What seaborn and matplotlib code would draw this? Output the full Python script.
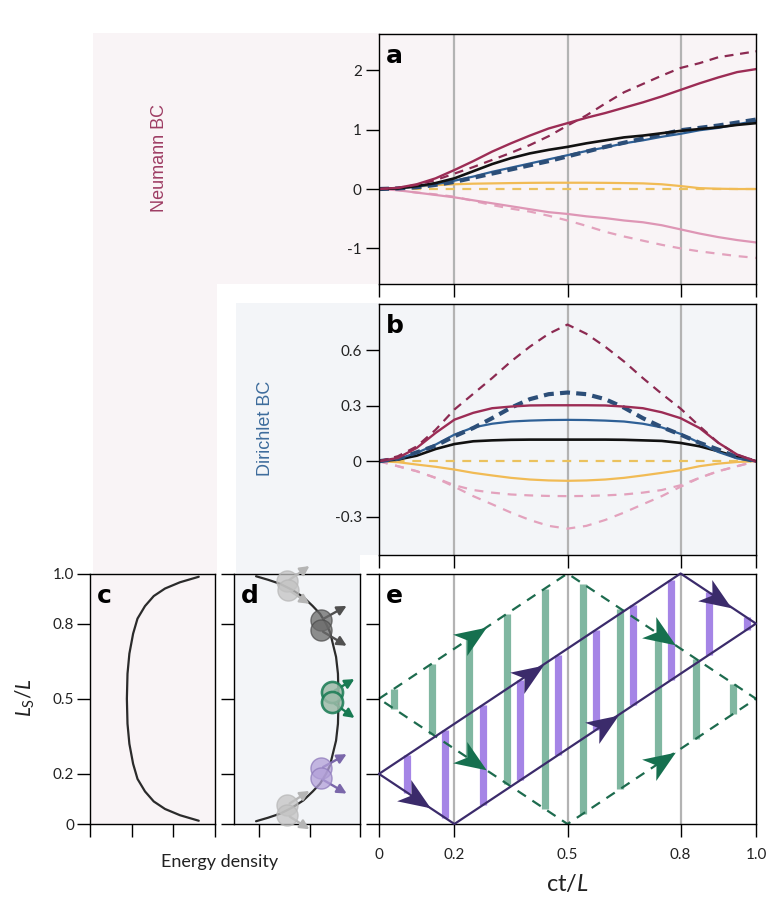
import numpy as np
import pandas as pd
import matplotlib
matplotlib.use("Agg")
import matplotlib.pyplot as plt
import seaborn as sns
from matplotlib.patches import Rectangle, FancyArrowPatch
from matplotlib.path import Path
from matplotlib.markers import MarkerStyle
from matplotlib.transforms import Affine2D

# ---------------- data ----------------
t = [0.0, 0.05, 0.1, 0.15, 0.2, 0.25, 0.3, 0.35, 0.4, 0.45, 0.5,
     0.55, 0.6, 0.65, 0.7, 0.75, 0.8, 0.85, 0.9, 0.95, 1.0]

# panel a (Neumann BC)
neu_red_solid = [0, 0.02, 0.08, 0.18, 0.32, 0.47, 0.63, 0.77, 0.9, 1.02, 1.11,
                 1.2, 1.28, 1.37, 1.46, 1.56, 1.67, 1.78, 1.88, 1.97, 2.02]
neu_red_dash = [0, 0.02, 0.07, 0.15, 0.26, 0.37, 0.49, 0.61, 0.74, 0.89, 1.07,
                1.24, 1.44, 1.63, 1.77, 1.91, 2.04, 2.12, 2.22, 2.27, 2.32]
neu_black = [0, 0.01, 0.05, 0.1, 0.18, 0.3, 0.42, 0.52, 0.6, 0.66, 0.71,
             0.77, 0.82, 0.87, 0.9, 0.94, 0.98, 1.01, 1.04, 1.08, 1.11]
neu_blue_solid = [0, 0.01, 0.04, 0.08, 0.14, 0.21, 0.29, 0.36, 0.43, 0.5, 0.57,
                  0.64, 0.7, 0.77, 0.82, 0.88, 0.93, 0.99, 1.03, 1.09, 1.15]
neu_blue_dash = [0, 0.01, 0.03, 0.07, 0.12, 0.19, 0.26, 0.33, 0.4, 0.47, 0.55,
                 0.63, 0.71, 0.78, 0.85, 0.92, 0.99, 1.03, 1.07, 1.12, 1.17]
neu_yellow_solid = [0, 0.01, 0.04, 0.065, 0.08, 0.09, 0.095, 0.1, 0.104, 0.106, 0.106,
                    0.106, 0.104, 0.1, 0.095, 0.08, 0.05, 0.015, 0.005, 0.0, 0.0]
neu_yellow_dash = [0, 0, 0, 0, 0, 0, 0, 0, 0, 0, 0,
                   0, 0, 0, 0, 0, 0, 0, 0, 0, 0]
neu_pink_solid = [0, -0.02, -0.06, -0.1, -0.14, -0.19, -0.24, -0.29, -0.34, -0.39, -0.42,
                  -0.46, -0.49, -0.53, -0.56, -0.61, -0.68, -0.75, -0.81, -0.86, -0.9]
neu_pink_dash = [0, -0.02, -0.06, -0.09, -0.13, -0.2, -0.27, -0.33, -0.38, -0.45, -0.53,
                 -0.62, -0.72, -0.8, -0.87, -0.94, -1.0, -1.05, -1.09, -1.13, -1.16]

# panel b (Dirichlet BC)
dir_red_dash = [0, 0.027, 0.08, 0.17, 0.28, 0.365, 0.45, 0.54, 0.62, 0.69, 0.74,
                0.69, 0.62, 0.54, 0.45, 0.365, 0.285, 0.19, 0.1, 0.035, 0]
dir_red_solid = [0, 0.018, 0.072, 0.153, 0.225, 0.262, 0.287, 0.296, 0.302, 0.303, 0.303,
                 0.303, 0.302, 0.296, 0.287, 0.265, 0.233, 0.18, 0.1, 0.036, 0]
dir_blue_dash = [0, 0.013, 0.048, 0.084, 0.135, 0.18, 0.233, 0.29, 0.336, 0.363, 0.372,
                 0.363, 0.336, 0.29, 0.233, 0.185, 0.144, 0.1, 0.063, 0.022, 0]
dir_blue_solid = [0, 0.013, 0.045, 0.09, 0.144, 0.183, 0.203, 0.215, 0.22, 0.223, 0.224,
                  0.223, 0.22, 0.215, 0.203, 0.183, 0.148, 0.1, 0.05, 0.015, 0]
dir_black = [0, 0.009, 0.03, 0.066, 0.093, 0.108, 0.113, 0.116, 0.117, 0.117, 0.117,
             0.117, 0.117, 0.116, 0.113, 0.11, 0.099, 0.081, 0.054, 0.023, 0]
dir_yellow_solid = [0, -0.005, -0.018, -0.03, -0.045, -0.063, -0.077, -0.09, -0.099, -0.104, -0.106,
                    -0.104, -0.099, -0.09, -0.077, -0.063, -0.048, -0.027, -0.013, -0.004, 0]
dir_yellow_dash = [0, 0, 0, 0, 0, 0, 0, 0, 0, 0, 0,
                   0, 0, 0, 0, 0, 0, 0, 0, 0, 0]
dir_pink_dash1 = [0, -0.027, -0.054, -0.09, -0.13, -0.156, -0.17, -0.18, -0.185, -0.188, -0.189,
                  -0.188, -0.185, -0.18, -0.17, -0.156, -0.13, -0.09, -0.054, -0.027, 0]
dir_pink_dash2 = [0, -0.027, -0.054, -0.09, -0.138, -0.189, -0.233, -0.278, -0.318, -0.35, -0.365,
                  -0.35, -0.318, -0.278, -0.233, -0.189, -0.138, -0.09, -0.054, -0.027, 0]

# panel c curve
c_L = [0.013, 0.035, 0.06, 0.09, 0.13, 0.18, 0.24, 0.32, 0.4, 0.5,
       0.6, 0.68, 0.76, 0.82, 0.87, 0.91, 0.94, 0.965, 0.987]
c_E = [0.87, 0.72, 0.6, 0.51, 0.44, 0.38, 0.345, 0.315, 0.3, 0.295,
       0.3, 0.315, 0.345, 0.38, 0.44, 0.51, 0.6, 0.72, 0.87]

# panel d curve and particles
d_L = [0.011, 0.025, 0.041, 0.065, 0.094, 0.13, 0.161, 0.2, 0.234, 0.333, 0.4, 0.5,
       0.6, 0.667, 0.766, 0.8, 0.839, 0.87, 0.906, 0.935, 0.959, 0.975, 0.989]
d_E = [0.175, 0.27, 0.365, 0.46, 0.55, 0.625, 0.683, 0.73, 0.762, 0.81, 0.825, 0.83,
       0.825, 0.81, 0.762, 0.73, 0.683, 0.625, 0.55, 0.46, 0.365, 0.27, 0.175]
p_E = [0.423, 0.431, 0.688, 0.688, 0.78, 0.78, 0.688, 0.688, 0.423, 0.423]
p_L = [0.969, 0.935, 0.813, 0.773, 0.527, 0.487, 0.222, 0.182, 0.076, 0.036]
p_tip_E = [0.617, 0.617, 0.913, 0.913, 0.974, 0.974, 0.913, 0.913, 0.617, 0.617]
p_tip_L = [1.036, 0.873, 0.876, 0.706, 0.584, 0.417, 0.284, 0.116, 0.138, -0.027]
p_group = ["light", "light", "dark", "dark", "green", "green", "purple", "purple", "light", "light"]

# panel e
e_purple_x = [0.0, 0.2, 1.0, 0.8, 0.0]
e_purple_y = [0.2, 0.0, 0.8, 1.0, 0.2]
e_green_x = [0.0, 0.5, 1.0, 0.5, 0.0]
e_green_y = [0.5, 1.0, 0.5, 0.0, 0.5]
green_bar_x = [0.04, 0.14, 0.24, 0.34, 0.44, 0.54, 0.64, 0.74, 0.84, 0.94]
green_bar_lo = [0.46, 0.36, 0.26, 0.16, 0.06, 0.04, 0.14, 0.24, 0.34, 0.44]
green_bar_hi = [0.54, 0.64, 0.74, 0.84, 0.94, 0.96, 0.86, 0.76, 0.66, 0.56]
purple_bar_x = [0.075, 0.175, 0.275, 0.375, 0.475, 0.575, 0.675, 0.775, 0.875, 0.975]
purple_bar_lo = [0.125, 0.025, 0.075, 0.175, 0.275, 0.375, 0.475, 0.575, 0.675, 0.775]
purple_bar_hi = [0.275, 0.375, 0.475, 0.575, 0.675, 0.775, 0.875, 0.975, 0.925, 0.825]
e_purple_arrow_x = [0.1, 0.4, 0.6, 0.9]
e_purple_arrow_y = [0.1, 0.6, 0.4, 0.9]
e_purple_arrow_dy = [-1, 1, 1, -1]
e_green_arrow_x = [0.25, 0.25, 0.75, 0.75]
e_green_arrow_y = [0.75, 0.25, 0.75, 0.25]
e_green_arrow_dy = [1, -1, -1, 1]

grid_x = [0.2, 0.5, 0.8]
time_ticks = [0, 0.2, 0.5, 0.8, 1.0]
time_labels = ["0", "0.2", "0.5", "0.8", "1.0"]
ls_ticks = [0, 0.2, 0.5, 0.8, 1.0]
ls_labels = ["0", "0.2", "0.5", "0.8", "1.0"]
a_ticks = [2, 1, 0, -1]
a_labels = ["2", "1", "0", "-1"]
b_ticks = [0.6, 0.3, 0, -0.3]
b_labels = ["0.6", "0.3", "0", "-0.3"]

# ---------------- style ----------------
sns.set_theme(style="white")
plt.rcParams["font.family"] = ["Lato", "DejaVu Sans"]
plt.rcParams["mathtext.fontset"] = "custom"
plt.rcParams["mathtext.it"] = "Lato:italic"
plt.rcParams["mathtext.rm"] = "Lato"
plt.rcParams["axes.linewidth"] = 1.0
plt.rcParams["axes.edgecolor"] = "black"

RED = "#9c2c55"
RED_D = "#8c2a52"
BLUE = "#2e6096"
BLUE_D = "#2c4e78"
YEL = "#f1bb55"
YEL_D = "#ebc25e"
PINK = "#de96b5"
PINK_D = "#e3a2bd"
PINK_BG = "#f9f4f6"
BLUE_BG = "#f3f5f8"
GRIDC = "#b3b3b3"
PURP = "#3b2b6b"
GREEN = "#1d6b4e"

W, H = 768, 902
fig = plt.figure(figsize=(W / 100, H / 100), dpi=100)


def px_axes(l, tp, r, b):
    return fig.add_axes([l / W, 1 - b / H, (r - l) / W, (b - tp) / H])


def px_rect(l, tp, r, b, color):
    fig.patches.append(Rectangle((l / W, 1 - b / H), (r - l) / W, (b - tp) / H,
                                 transform=fig.transFigure, color=color, zorder=-10, lw=0))


px_rect(93, 33, 756, 284, PINK_BG)
px_rect(93, 284, 217, 574, PINK_BG)
px_rect(236, 303, 756, 555, BLUE_BG)
px_rect(236, 555, 360, 574, BLUE_BG)

ax_a = px_axes(379, 33.5, 756, 284)
ax_b = px_axes(379, 303.5, 756, 554.5)
ax_c = px_axes(90, 573.5, 215, 824)
ax_d = px_axes(234, 573.5, 360, 824)
ax_e = px_axes(379, 573.5, 756, 824)

ax_a.set_facecolor("none")
ax_b.set_facecolor("none")
ax_c.set_facecolor(PINK_BG)
ax_d.set_facecolor(BLUE_BG)
ax_e.set_facecolor("white")

for ax in [ax_a, ax_b, ax_c, ax_d, ax_e]:
    ax.tick_params(direction="out", length=9.4, width=1.0, color="black",
                   labelsize=11, pad=3, left=True, bottom=True, labelcolor="#222222")
    for s in ax.spines.values():
        s.set_visible(True)
        s.set_color("black")
        s.set_linewidth(1.0)

# ---------- panel a ----------
series_a = [
    (neu_yellow_dash, YEL_D, 1.6, (0, (4, 3.5))),
    (neu_yellow_solid, YEL, 1.6, "-"),
    (neu_pink_dash, PINK_D, 1.6, (0, (4, 3.5))),
    (neu_pink_solid, PINK, 1.6, "-"),
    (neu_blue_solid, BLUE, 1.6, "-"),
    (neu_blue_dash, BLUE_D, 3.0, (0, (2.4, 1.5))),
    (neu_black, "#111111", 1.9, "-"),
    (neu_red_dash, RED_D, 1.6, (0, (4, 3))),
    (neu_red_solid, RED, 1.7, "-"),
]
for xg in grid_x:
    ax_a.axvline(xg, color=GRIDC, lw=1.6, zorder=0)
for vals, col, lw, ls in series_a:
    sns.lineplot(x=t, y=vals, ax=ax_a, color=col, lw=lw, linestyle=ls, estimator=None, sort=False)
ax_a.set_xlim(0, 1)
ax_a.set_ylim(-1.6, 2.62)
ax_a.set_xticks(time_ticks)
ax_a.set_xticklabels([])
ax_a.set_yticks(a_ticks)
ax_a.set_yticklabels(a_labels)
ax_a.set_xlabel("")
ax_a.set_ylabel("")

# ---------- panel b ----------
series_b = [
    (dir_yellow_dash, YEL_D, 1.6, (0, (4, 3.5))),
    (dir_yellow_solid, YEL, 1.6, "-"),
    (dir_pink_dash1, PINK_D, 1.6, (0, (4, 3.5))),
    (dir_pink_dash2, PINK_D, 1.6, (0, (4, 3.5))),
    (dir_black, "#111111", 1.9, "-"),
    (dir_blue_solid, BLUE, 1.6, "-"),
    (dir_blue_dash, BLUE_D, 3.0, (0, (2.4, 1.5))),
    (dir_red_solid, RED, 1.7, "-"),
    (dir_red_dash, RED_D, 1.6, (0, (4, 3))),
]
for xg in grid_x:
    ax_b.axvline(xg, color=GRIDC, lw=1.6, zorder=0)
for vals, col, lw, ls in series_b:
    sns.lineplot(x=t, y=vals, ax=ax_b, color=col, lw=lw, linestyle=ls, estimator=None, sort=False)
ax_b.set_xlim(0, 1)
ax_b.set_ylim(-0.505, 0.854)
ax_b.set_xticks(time_ticks)
ax_b.set_xticklabels([])
ax_b.set_yticks(b_ticks)
ax_b.set_yticklabels(b_labels)
ax_b.set_xlabel("")
ax_b.set_ylabel("")

# ---------- panel c ----------
ax_c.plot(c_E, c_L, color="#2b2b2b", lw=1.6)
ax_c.set_xlim(0, 1)
ax_c.set_ylim(0, 1)
ax_c.set_xticks([0, 1 / 3, 2 / 3, 1])
ax_c.set_xticklabels([])
ax_c.set_yticks(ls_ticks)
ax_c.set_yticklabels(ls_labels)
ax_c.tick_params(axis="y", pad=2)

# ---------- panel d ----------
ax_d.plot(d_E, d_L, color="#2b2b2b", lw=1.6, zorder=2)
grp_style = {
    "light": dict(fc="#c3c3c3", ec="#b8b8b8", arrow="#b5b5b5", alpha=0.75),
    "dark": dict(fc="#6a6a6a", ec="#4e4e4e", arrow="#505050", alpha=0.75),
    "green": dict(fc="#9dbba9", ec="#177a52", arrow="#177a52", alpha=0.85),
    "purple": dict(fc="#b2a0d8", ec="#8e7abb", arrow="#7a67aa", alpha=0.75),
}
for e0, l0, e1, l1, g in zip(p_E, p_L, p_tip_E, p_tip_L, p_group):
    st = grp_style[g]
    arr = FancyArrowPatch((e0, l0), (e1, l1), arrowstyle="-|>,head_length=0.55,head_width=0.28",
                          mutation_scale=10, color=st["arrow"], lw=1.7, clip_on=False, zorder=3)
    ax_d.add_patch(arr)
for e0, l0, g in zip(p_E, p_L, p_group):
    st = grp_style[g]
    ax_d.scatter([e0], [l0], s=230, facecolor=st["fc"], edgecolor=st["ec"],
                 linewidth=1.9 if g == "green" else 1.0, alpha=st["alpha"], zorder=4, clip_on=False)
ax_d.set_xlim(0, 1)
ax_d.set_ylim(0, 1)
ax_d.set_xticks([0.2, 0.6, 1.0])
ax_d.set_xticklabels([])
ax_d.set_yticks(ls_ticks)
ax_d.set_yticklabels([])

# ---------- panel e ----------
for xg in grid_x:
    ax_e.axvline(xg, color=GRIDC, lw=1.6, zorder=0)
ax_e.vlines(green_bar_x, green_bar_lo, green_bar_hi, color="#80b7a1", lw=5.2, zorder=1)
ax_e.vlines(purple_bar_x, purple_bar_lo, purple_bar_hi, color="#a585e6", lw=5.2, zorder=1)
ax_e.plot(e_green_x, e_green_y, color=GREEN, lw=1.6, linestyle=(0, (4.5, 3.5)), zorder=2,
          clip_on=False)
ax_e.plot(e_purple_x, e_purple_y, color=PURP, lw=1.6, zorder=3, clip_on=False)
ax_e.set_xlim(0, 1)
ax_e.set_ylim(0, 1)


def stealth(ax, x, y, dx, dy):
    p0 = ax.transData.transform((x, y))
    p1 = ax.transData.transform((x + 0.01 * dx, y + 0.01 * dy))
    ang = np.degrees(np.arctan2(p1[1] - p0[1], p1[0] - p0[0]))
    verts = [(1, 0), (-1, 0.8), (-0.45, 0), (-1, -0.8), (1, 0)]
    codes = [Path.MOVETO, Path.LINETO, Path.LINETO, Path.LINETO, Path.CLOSEPOLY]
    return MarkerStyle(Path(verts, codes), transform=Affine2D().rotate_deg(ang))


for x, y, dy in zip(e_purple_arrow_x, e_purple_arrow_y, e_purple_arrow_dy):
    ax_e.plot([x], [y], marker=stealth(ax_e, x, y, 1, dy), markersize=23, color=PURP,
              markeredgewidth=0, linestyle="none", zorder=5)
for x, y, dy in zip(e_green_arrow_x, e_green_arrow_y, e_green_arrow_dy):
    ax_e.plot([x], [y], marker=stealth(ax_e, x, y, 1, dy), markersize=23, color="#16704f",
              markeredgewidth=0, linestyle="none", zorder=5)

ax_e.set_xticks(time_ticks)
ax_e.set_xticklabels(time_labels)
ax_e.set_yticks(ls_ticks)
ax_e.set_yticklabels([])
ax_e.tick_params(axis="x", pad=8)

# ---------- panel letters ----------
for ax, lab in [(ax_a, "a"), (ax_b, "b"), (ax_c, "c"), (ax_d, "d"), (ax_e, "e")]:
    ax.annotate(lab, xy=(0, 1), xycoords="axes fraction", xytext=(5, -7.5),
                textcoords="offset points", ha="left", va="top", fontsize=18,
                fontweight="bold", color="black", zorder=10,
                family=["DejaVu Sans"])

# ---------- texts ----------
fig.text(159 / W, 1 - 158 / H, "Neumann BC", rotation=90, ha="center", va="center",
         fontsize=13, color="#9e3d64", family=["Liberation Sans", "DejaVu Sans"])
fig.text(265 / W, 1 - 428 / H, "Dirichlet BC", rotation=90, ha="center", va="center",
         fontsize=13, color="#3d6c9c", family=["Liberation Sans", "DejaVu Sans"])
fig.text(25 / W, 1 - 698 / H, r"$L_{\mathrm{S}}/L$", rotation=90, ha="center", va="center",
         fontsize=15, color="#222222")
fig.text(220 / W, 1 - 862 / H, "Energy density", ha="center", va="center",
         fontsize=13, color="#222222")
fig.text(567 / W, 1 - 884 / H, r"ct/$L$", ha="center", va="center",
         fontsize=17, color="#222222")

fig.savefig("out.png", dpi=100)
